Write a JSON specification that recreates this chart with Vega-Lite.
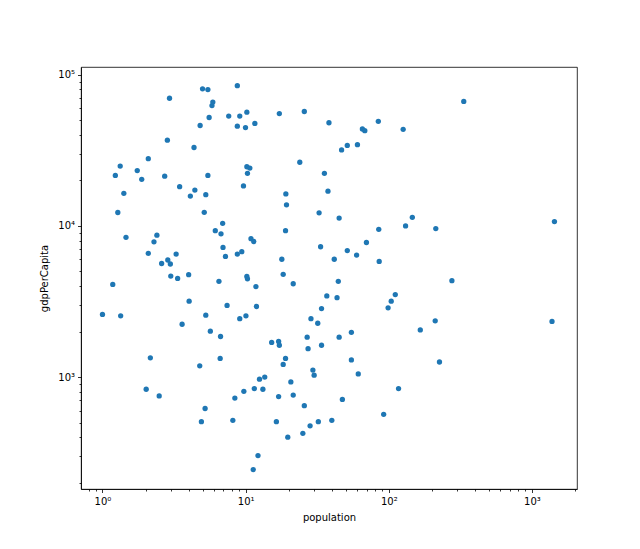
{
  "$schema": "https://vega.github.io/schema/vega-lite/v6.json",
  "autosize": "none",
  "padding": {"left": 81, "top": 67, "right": 63, "bottom": 60},
  "width": 496,
  "height": 422,
  "background": "white",
  "config": {
    "view": {"stroke": "#000000", "strokeWidth": 0.8},
    "font": "DejaVu Sans",
    "axis": {"labelFont": "DejaVu Sans", "titleFont": "DejaVu Sans", "labelColor": "#000000", "titleColor": "#000000", "tickColor": "#000000", "domainColor": "#000000", "grid": false, "labelFontSize": 10, "titleFontSize": 10, "titleFontWeight": "normal", "tickWidth": 0.8, "domainWidth": 0.8}
  },
  "data": {"values": [
    {"population": 1.0, "gdpPerCapita": 2594},
    {"population": 1.18, "gdpPerCapita": 4100},
    {"population": 1.23, "gdpPerCapita": 21600},
    {"population": 1.28, "gdpPerCapita": 12270},
    {"population": 1.33, "gdpPerCapita": 24900},
    {"population": 1.34, "gdpPerCapita": 2540},
    {"population": 1.41, "gdpPerCapita": 16450},
    {"population": 1.46, "gdpPerCapita": 8410},
    {"population": 1.75, "gdpPerCapita": 23250},
    {"population": 1.88, "gdpPerCapita": 20350},
    {"population": 2.02, "gdpPerCapita": 830},
    {"population": 2.09, "gdpPerCapita": 27870},
    {"population": 2.09, "gdpPerCapita": 6590},
    {"population": 2.16, "gdpPerCapita": 1340},
    {"population": 2.29, "gdpPerCapita": 7850},
    {"population": 2.40, "gdpPerCapita": 8690},
    {"population": 2.49, "gdpPerCapita": 750},
    {"population": 2.59, "gdpPerCapita": 5640},
    {"population": 2.72, "gdpPerCapita": 21350},
    {"population": 2.84, "gdpPerCapita": 36950},
    {"population": 2.86, "gdpPerCapita": 5950},
    {"population": 2.94, "gdpPerCapita": 70000},
    {"population": 2.98, "gdpPerCapita": 5600},
    {"population": 3.00, "gdpPerCapita": 4660},
    {"population": 3.27, "gdpPerCapita": 6510},
    {"population": 3.35, "gdpPerCapita": 4490},
    {"population": 3.46, "gdpPerCapita": 18200},
    {"population": 3.60, "gdpPerCapita": 2235},
    {"population": 4.00, "gdpPerCapita": 4760},
    {"population": 4.03, "gdpPerCapita": 3175},
    {"population": 4.11, "gdpPerCapita": 15770},
    {"population": 4.36, "gdpPerCapita": 33050},
    {"population": 4.42, "gdpPerCapita": 17260},
    {"population": 4.81, "gdpPerCapita": 46200},
    {"population": 4.78, "gdpPerCapita": 1186},
    {"population": 4.91, "gdpPerCapita": 506},
    {"population": 5.00, "gdpPerCapita": 80800},
    {"population": 5.14, "gdpPerCapita": 12300},
    {"population": 5.21, "gdpPerCapita": 619},
    {"population": 5.27, "gdpPerCapita": 16100},
    {"population": 5.27, "gdpPerCapita": 2566},
    {"population": 5.45, "gdpPerCapita": 79950},
    {"population": 5.45, "gdpPerCapita": 21600},
    {"population": 5.56, "gdpPerCapita": 52200},
    {"population": 5.67, "gdpPerCapita": 2010},
    {"population": 5.82, "gdpPerCapita": 62600},
    {"population": 5.90, "gdpPerCapita": 66050},
    {"population": 6.14, "gdpPerCapita": 9310},
    {"population": 6.51, "gdpPerCapita": 4300},
    {"population": 6.64, "gdpPerCapita": 1327},
    {"population": 6.68, "gdpPerCapita": 1855},
    {"population": 6.73, "gdpPerCapita": 8870},
    {"population": 6.91, "gdpPerCapita": 10400},
    {"population": 6.95, "gdpPerCapita": 7210},
    {"population": 7.23, "gdpPerCapita": 6280},
    {"population": 7.42, "gdpPerCapita": 2980},
    {"population": 7.62, "gdpPerCapita": 53350},
    {"population": 8.14, "gdpPerCapita": 517},
    {"population": 8.41, "gdpPerCapita": 726},
    {"population": 8.75, "gdpPerCapita": 84800},
    {"population": 8.75, "gdpPerCapita": 45700},
    {"population": 8.75, "gdpPerCapita": 6510},
    {"population": 9.10, "gdpPerCapita": 53350},
    {"population": 9.10, "gdpPerCapita": 2432},
    {"population": 9.40, "gdpPerCapita": 6760},
    {"population": 9.66, "gdpPerCapita": 18400},
    {"population": 9.72, "gdpPerCapita": 804},
    {"population": 9.98, "gdpPerCapita": 44770},
    {"population": 10.05, "gdpPerCapita": 2540},
    {"population": 10.2, "gdpPerCapita": 56600},
    {"population": 10.2, "gdpPerCapita": 4630},
    {"population": 10.2, "gdpPerCapita": 24650},
    {"population": 10.3, "gdpPerCapita": 22280},
    {"population": 10.3, "gdpPerCapita": 4465},
    {"population": 10.7, "gdpPerCapita": 24140},
    {"population": 10.9, "gdpPerCapita": 8240},
    {"population": 11.3, "gdpPerCapita": 244},
    {"population": 11.4, "gdpPerCapita": 7890},
    {"population": 11.5, "gdpPerCapita": 839},
    {"population": 11.6, "gdpPerCapita": 47700},
    {"population": 11.8, "gdpPerCapita": 3970},
    {"population": 11.9, "gdpPerCapita": 2930},
    {"population": 12.2, "gdpPerCapita": 302},
    {"population": 12.5, "gdpPerCapita": 968},
    {"population": 13.2, "gdpPerCapita": 830},
    {"population": 13.6, "gdpPerCapita": 1000},
    {"population": 15.2, "gdpPerCapita": 1694},
    {"population": 16.4, "gdpPerCapita": 506},
    {"population": 17.0, "gdpPerCapita": 1721},
    {"population": 17.0, "gdpPerCapita": 742},
    {"population": 17.2, "gdpPerCapita": 55400},
    {"population": 17.2, "gdpPerCapita": 1623},
    {"population": 17.9, "gdpPerCapita": 6020},
    {"population": 18.3, "gdpPerCapita": 4786},
    {"population": 18.3, "gdpPerCapita": 1211},
    {"population": 19.0, "gdpPerCapita": 1327},
    {"population": 19.0, "gdpPerCapita": 9310},
    {"population": 19.1, "gdpPerCapita": 16280},
    {"population": 19.3, "gdpPerCapita": 13800},
    {"population": 19.7, "gdpPerCapita": 400},
    {"population": 20.7, "gdpPerCapita": 928},
    {"population": 21.5, "gdpPerCapita": 4142},
    {"population": 21.5, "gdpPerCapita": 759},
    {"population": 23.9, "gdpPerCapita": 26400},
    {"population": 25.1, "gdpPerCapita": 424},
    {"population": 25.7, "gdpPerCapita": 57200},
    {"population": 25.7, "gdpPerCapita": 646},
    {"population": 26.9, "gdpPerCapita": 1835},
    {"population": 27.3, "gdpPerCapita": 1540},
    {"population": 28.2, "gdpPerCapita": 475},
    {"population": 28.6, "gdpPerCapita": 2432},
    {"population": 29.5, "gdpPerCapita": 1112},
    {"population": 30.1, "gdpPerCapita": 1028},
    {"population": 31.9, "gdpPerCapita": 2270},
    {"population": 32.2, "gdpPerCapita": 506},
    {"population": 32.6, "gdpPerCapita": 12210},
    {"population": 33.4, "gdpPerCapita": 7280},
    {"population": 33.9, "gdpPerCapita": 2840},
    {"population": 33.9, "gdpPerCapita": 1623},
    {"population": 35.5, "gdpPerCapita": 22280},
    {"population": 36.9, "gdpPerCapita": 3440},
    {"population": 37.6, "gdpPerCapita": 16980},
    {"population": 38.2, "gdpPerCapita": 48200},
    {"population": 40.0, "gdpPerCapita": 517},
    {"population": 41.6, "gdpPerCapita": 6020},
    {"population": 44.4, "gdpPerCapita": 4300},
    {"population": 45.0, "gdpPerCapita": 11270},
    {"population": 43.5, "gdpPerCapita": 3350},
    {"population": 45.0, "gdpPerCapita": 1835},
    {"population": 46.8, "gdpPerCapita": 31830},
    {"population": 47.4, "gdpPerCapita": 711},
    {"population": 51.3, "gdpPerCapita": 34100},
    {"population": 51.3, "gdpPerCapita": 6870},
    {"population": 54.8, "gdpPerCapita": 1977},
    {"population": 54.8, "gdpPerCapita": 1298},
    {"population": 59.6, "gdpPerCapita": 6410},
    {"population": 60.4, "gdpPerCapita": 34500},
    {"population": 61.2, "gdpPerCapita": 1049},
    {"population": 65.4, "gdpPerCapita": 43800},
    {"population": 68.0, "gdpPerCapita": 42700},
    {"population": 69.8, "gdpPerCapita": 7770},
    {"population": 84.5, "gdpPerCapita": 49270},
    {"population": 85.1, "gdpPerCapita": 9500},
    {"population": 85.7, "gdpPerCapita": 5820},
    {"population": 92.1, "gdpPerCapita": 566},
    {"population": 98.9, "gdpPerCapita": 2870},
    {"population": 104, "gdpPerCapita": 3175},
    {"population": 111, "gdpPerCapita": 3515},
    {"population": 117, "gdpPerCapita": 839},
    {"population": 126, "gdpPerCapita": 43600},
    {"population": 131, "gdpPerCapita": 10000},
    {"population": 146, "gdpPerCapita": 11400},
    {"population": 166, "gdpPerCapita": 2050},
    {"population": 211, "gdpPerCapita": 2355},
    {"population": 213, "gdpPerCapita": 9610},
    {"population": 226, "gdpPerCapita": 1257},
    {"population": 276, "gdpPerCapita": 4345},
    {"population": 334, "gdpPerCapita": 66700},
    {"population": 1381, "gdpPerCapita": 2332},
    {"population": 1436, "gdpPerCapita": 10690}
  ]},
  "resolve": {"axis": {"x": "independent", "y": "independent"}},
  "layer": [
    {
      "mark": {"type": "point", "filled": true, "color": "#1f77b4", "opacity": 1, "size": 28, "strokeWidth": 0},
      "encoding": {
        "x": {"field": "population", "type": "quantitative",
          "scale": {"type": "log", "domain": [0.708, 2064], "nice": false, "zero": false},
          "axis": {"orient": "bottom", "values": [1, 10, 100, 1000], "tickSize": 3.5, "labelPadding": 4, "title": "population", "titlePadding": 6,
            "labelExpr": "datum.value == 1 ? '10⁰' : datum.value == 10 ? '10¹' : datum.value == 100 ? '10²' : '10³'"}},
        "y": {"field": "gdpPerCapita", "type": "quantitative",
          "scale": {"type": "log", "domain": [181.5, 112700], "nice": false, "zero": false},
          "axis": {"orient": "left", "values": [1000, 10000, 100000], "tickSize": 3.5, "labelPadding": 3, "title": "gdpPerCapita", "titlePadding": 8,
            "labelExpr": "datum.value == 1000 ? '10³' : datum.value == 10000 ? '10⁴' : '10⁵'"}}
      }
    },
    {
      "mark": {"type": "point", "opacity": 0, "size": 1},
      "encoding": {
        "x": {"field": "population", "type": "quantitative",
          "axis": {"orient": "bottom", "values": [0.8, 0.9, 2, 3, 4, 5, 6, 7, 8, 9, 20, 30, 40, 50, 60, 70, 80, 90, 200, 300, 400, 500, 600, 700, 800, 900, 2000], "tickSize": 2, "labels": false, "title": null, "domain": false}},
        "y": {"field": "gdpPerCapita", "type": "quantitative",
          "axis": {"orient": "left", "values": [200, 300, 400, 500, 600, 700, 800, 900, 2000, 3000, 4000, 5000, 6000, 7000, 8000, 9000, 20000, 30000, 40000, 50000, 60000, 70000, 80000, 90000], "tickSize": 2, "labels": false, "title": null, "domain": false}}
      }
    }
  ]
}
